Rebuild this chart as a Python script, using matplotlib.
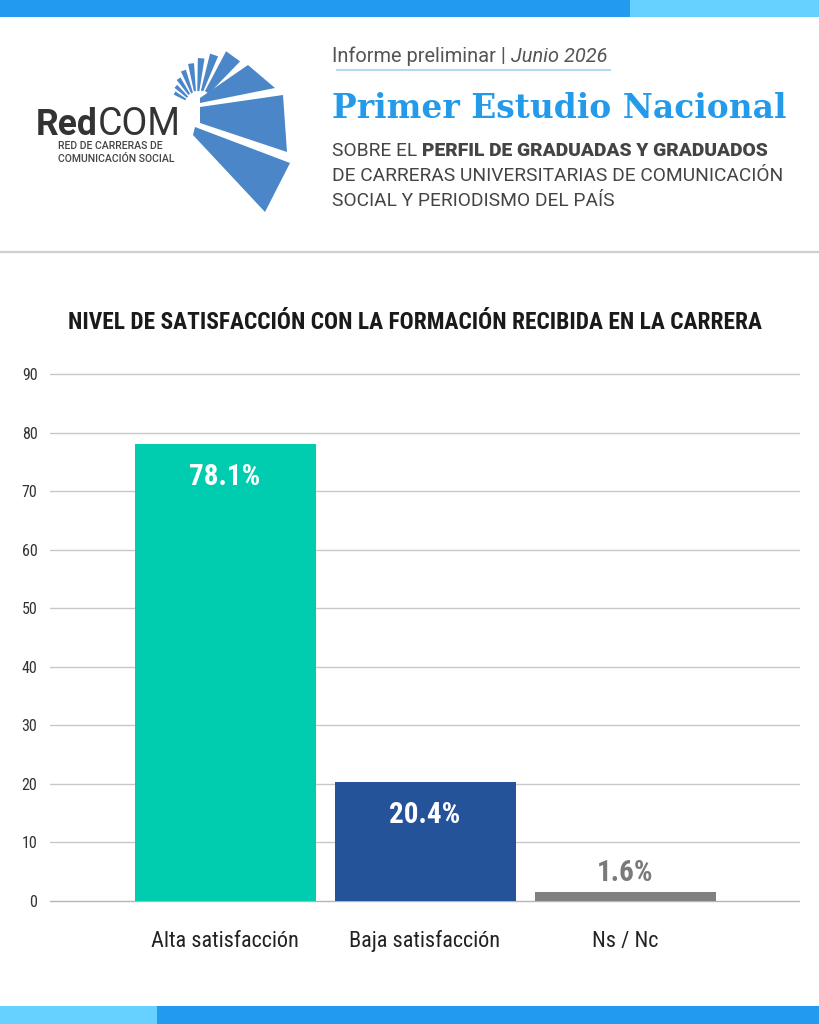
import matplotlib
matplotlib.use("Agg")
import matplotlib.pyplot as plt
from matplotlib import font_manager as fm
from matplotlib.patches import Rectangle, Polygon
import numpy as np

# ---------------- data ----------------
categories = ["Alta satisfacción", "Baja satisfacción", "Ns / Nc"]
values = [78.1, 20.4, 1.6]
value_labels = ["78.1%", "20.4%", "1.6%"]
bar_colors = ["#00cdb0", "#24539a", "#808080"]
label_colors = ["white", "white", "#7a7a7a"]
label_inside = [True, True, False]
yticks = [0, 10, 20, 30, 40, 50, 60, 70, 80, 90]

chart_title = "NIVEL DE SATISFACCIÓN CON LA FORMACIÓN RECIBIDA EN LA CARRERA"
kicker_a = "Informe preliminar | "
kicker_b = "Junio 2026"
headline = "Primer Estudio Nacional"
sub1_a = "SOBRE EL "
sub1_b = "PERFIL DE GRADUADAS Y GRADUADOS"
sub2 = "DE CARRERAS UNIVERSITARIAS DE COMUNICACIÓN"
sub3 = "SOCIAL Y PERIODISMO DEL PAÍS"
logo_a = "Red"
logo_b = "COM"
logo_sub1 = "RED DE CARRERAS DE"
logo_sub2 = "COMUNICACIÓN SOCIAL"

# ---------------- fonts ----------------
def wnum(w):
    if isinstance(w, str):
        return fm.weight_dict.get(w, 400)
    return int(w)

fonts = fm.fontManager.ttflist
names = {f.name for f in fonts}

def pick(cands):
    for c in cands:
        if c in names:
            return c
    return "DejaVu Sans"

def pick_bold(cands, minw=700):
    for c in cands:
        if any(f.name == c and wnum(f.weight) >= minw and f.style == "normal" for f in fonts):
            return c
    return "DejaVu Serif"

def has_weight(fam, w):
    return any(f.name == fam and wnum(f.weight) >= w and f.style == "normal" for f in fonts)

COND = pick(["Roboto Condensed", "Liberation Sans Narrow", "Arial Narrow", "Open Sans Condensed", "Roboto"])
SLAB = pick_bold(["Roboto Slab", "Noto Serif", "DejaVu Serif"])
SANS = pick(["Roboto", "Inter", "Noto Sans", "DejaVu Sans"])
HEAVY = "black" if has_weight(SANS, 900) else ("heavy" if has_weight(SANS, 800) else "bold")
COND_HEAVY = "black" if has_weight(COND, 900) else ("heavy" if has_weight(COND, 800) else "bold")
plt.rcParams["font.family"] = [SANS, "DejaVu Sans"]

W, H = 819, 1024
fig = plt.figure(figsize=(W / 100, H / 100), dpi=100, facecolor="white")
renderer = fig.canvas.get_renderer()

# background / decoration axes in pixel coordinates
bg = fig.add_axes([0, 0, 1, 1], zorder=0)
bg.set_xlim(0, W)
bg.set_ylim(H, 0)
bg.axis("off")

# top & bottom bands
bg.add_patch(Rectangle((0, 0), 630, 17, color="#219bef", lw=0))
bg.add_patch(Rectangle((630, 0), W - 630, 17, color="#66d1ff", lw=0))
bg.add_patch(Rectangle((0, 1006), 157, 18, color="#66d1ff", lw=0))
bg.add_patch(Rectangle((157, 1006), W - 157, 18, color="#219bef", lw=0))
# separator
bg.plot([0, W], [252, 252], color="#cfcfcf", lw=1.6, solid_capstyle="butt")

# ---- logo fan ----
fan_color = "#4a86c8"
big_wedges = [
    [(195, 127), (290, 163), (265, 212), (193, 135)],
    [(200, 107), (283, 95), (287, 152), (200, 123)],
    [(200, 98), (248, 65), (275, 88), (200, 103)],
]
for pts in big_wedges:
    bg.add_patch(Polygon(pts, closed=True, color=fan_color, lw=0))
cx, cy = 197, 106
slivers = [(46, 62, 17, 62), (67, 76, 16, 54), (81, 89, 15, 48), (94, 102, 15, 43),
           (107, 115, 14, 38), (120, 128, 14, 33), (133, 141, 13, 29), (146, 154, 13, 26)]
for a1, a2, ri, ro in slivers:
    t1, t2 = np.radians(a1), np.radians(a2)
    pts = [(cx + ri * np.cos(t1), cy - ri * np.sin(t1)),
           (cx + ro * np.cos(t1), cy - ro * np.sin(t1)),
           (cx + ro * np.cos(t2), cy - ro * np.sin(t2)),
           (cx + ri * np.cos(t2), cy - ri * np.sin(t2))]
    bg.add_patch(Polygon(pts, closed=True, color=fan_color, lw=0))


def width(t):
    return t.get_window_extent(renderer).width


def fit(t, target):
    t.set_fontsize(t.get_fontsize() * target / width(t))
    return t


def right_edge(t):
    return t.get_window_extent(renderer).x1


# logo text
t1 = bg.text(36, 135, logo_a, fontsize=23, fontweight="bold", color="#333333",
             va="baseline", ha="left")
fit(t1, 62)
x1 = right_edge(t1)
t2 = bg.text(x1, 135, logo_b, fontsize=23, fontweight="normal", color="#333333",
             va="baseline", ha="left")
fit(t2, 181 - x1)
ls1 = bg.text(58, 149, logo_sub1, fontsize=7.5, fontweight="medium", color="#444444",
              va="baseline", ha="left")
fit(ls1, 105)
ls2 = bg.text(58, 162, logo_sub2, fontsize=ls1.get_fontsize(), fontweight="medium",
              color="#444444", va="baseline", ha="left")

# header texts
fs_k = 12.5
for _ in range(3):
    k1 = bg.text(332, 62, kicker_a, fontsize=fs_k, color="#555555", va="baseline", ha="left")
    k2 = bg.text(right_edge(k1), 62, kicker_b, fontsize=fs_k, color="#555555",
                 style="italic", va="baseline", ha="left")
    total = right_edge(k2) - 332
    fs_new = fs_k * 275 / total
    if abs(fs_new - fs_k) < 0.02:
        break
    k1.remove(); k2.remove()
    fs_k = fs_new
bg.plot([336, 611], [69.5, 69.5], color="#a9d5ee", lw=1.3, solid_capstyle="butt")

hl = bg.text(332, 118, headline, fontsize=29, fontweight="bold", color="#239bea",
             family=[SLAB, "DejaVu Serif"], va="baseline", ha="left")
fit(hl, 453)

s2 = bg.text(332, 181, sub2, fontsize=12, color="#444444", va="baseline", ha="left")
fit(s2, 449)
fs_s = s2.get_fontsize()
s3 = bg.text(332, 205.5, sub3, fontsize=fs_s, color="#444444", va="baseline", ha="left")
s1a = bg.text(332, 156, sub1_a, fontsize=fs_s, color="#444444", va="baseline", ha="left")
xs = right_edge(s1a)
s1b = bg.text(xs, 156, sub1_b, fontsize=fs_s, fontweight=HEAVY, color="#444444",
              va="baseline", ha="left")
fit(s1b, 768 - xs)

# chart title
ct = bg.text(415, 329, chart_title, fontsize=17, fontweight="bold", color="#1a1a1a",
             family=[COND, "DejaVu Sans"], va="baseline", ha="center")
fit(ct, 694)

# ---------------- chart ----------------
ppu = 527 / 90.0
ax = fig.add_axes([50 / W, (H - 901 - ppu) / H, 750 / W, (527 + 2 * ppu) / H], zorder=2)
ax.patch.set_alpha(0)
x = np.arange(len(categories))
ax.bar(x, values, width=0.905, color=bar_colors, zorder=3)
ax.set_xlim(-0.875, 2.875)
ax.set_ylim(-1, 91)
ax.set_yticks(yticks)
ax.set_yticklabels([str(v) for v in yticks], family=[COND, "DejaVu Sans"],
                   fontsize=11.5, color="#333333")
ax.tick_params(axis="y", length=0, pad=9)
ax.set_xticks([])
for s in ax.spines.values():
    s.set_visible(False)
for v in yticks:
    ax.axhline(v, color="#c8c8c8" if v else "#b5b5b5", lw=1, zorder=1)

for xi, v, lab, col, inside in zip(x, values, value_labels, label_colors, label_inside):
    off = -41 if inside else 11
    t = ax.annotate(lab, (xi, v), xytext=(0, off), textcoords="offset pixels",
                    ha="center", va="baseline", fontsize=21, fontweight=COND_HEAVY,
                    color=col, family=[COND, "DejaVu Sans"], zorder=4)

for xi, c in zip(x, categories):
    ax.annotate(c, (xi, 0), xytext=(0, -(947 - 901)), textcoords="offset pixels",
                ha="center", va="baseline", fontsize=16, color="#222222",
                family=[COND, "DejaVu Sans"], annotation_clip=False)

fig.savefig("out.png", dpi=100, facecolor="white")
